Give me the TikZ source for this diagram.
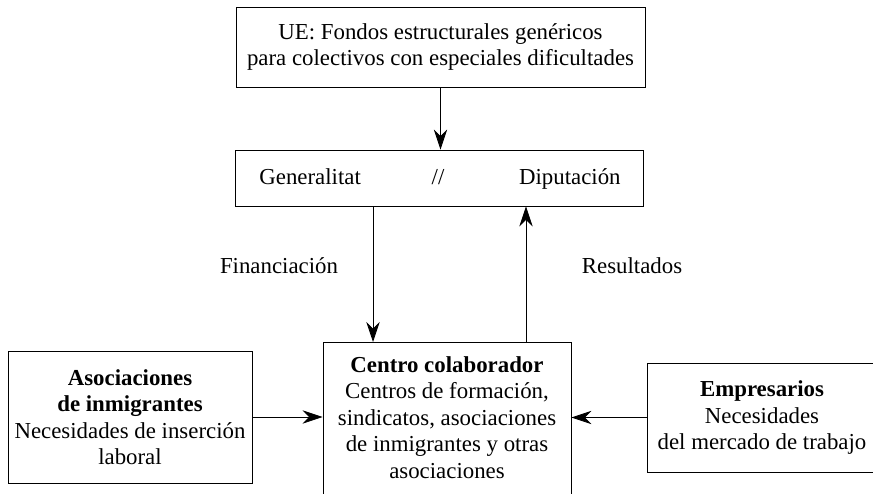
\documentclass[tikz,border=0pt]{standalone}
\usepackage{fontspec}
\setmainfont{Liberation Serif}
\usetikzlibrary{arrows.meta}
\begin{document}
\begin{tikzpicture}[x=0.03cm, y=-0.03cm, line width=0.7pt,
  box/.style={draw, align=center, inner sep=0pt},
  lbl/.style={inner sep=0pt},
  arr/.style={-{Stealth[length=0.6cm, width=0.4cm]}},
  every node/.style={font=\fontsize{19.5}{22.6}\selectfont}]
\useasboundingbox (0,0) rectangle (873,493);
\node[box, minimum width=12.27cm, minimum height=2.4cm] (ue) at (440.5,47){UE: Fondos estructurales genéricos\\para colectivos con especiales dificultades};
\node[box, minimum width=12.24cm, minimum height=1.68cm] (gen) at (439,178){};
\node[lbl, anchor=base west] (genl) at (259,184){Generalitat};
\node[lbl, anchor=base] (gens) at (438,184){//};
\node[lbl, anchor=base east] (genr) at (621,184){Diputación};
\node[lbl, anchor=base] (fin) at (279,273){Financiación};
\node[lbl, anchor=base] (res) at (632,273){Resultados};
\node[box, anchor=north, minimum width=7.44cm, inner ysep=0.42cm, text depth=4.5cm] (cen) at (447,342){\textbf{Centro colaborador}\\Centros de formación,\\sindicatos, asociaciones\\de inmigrantes y otras\\asociaciones};
\node[box, minimum width=7.32cm, minimum height=3.96cm] (asoc) at (130,417){\textbf{Asociaciones}\\\textbf{de inmigrantes}\\Necesidades de inserción\\laboral};
\node[box, minimum width=6.9cm, minimum height=3.27cm] (emp) at (762,417.5){\textbf{Empresarios}\\Necesidades\\del mercado de trabajo};
\coordinate (finx) at (373,0);
\coordinate (resx) at (526,0);
\draw[arr] (ue.south) -- (ue.south |- gen.north);
\draw[arr] (finx |- gen.south) -- (finx |- cen.north);
\draw[arr] (resx |- cen.north) -- (resx |- gen.south);
\draw[arr] (asoc.east) -- (cen.west |- asoc.east);
\draw[arr] (emp.west) -- (cen.east |- emp.west);
\end{tikzpicture}
\end{document}
